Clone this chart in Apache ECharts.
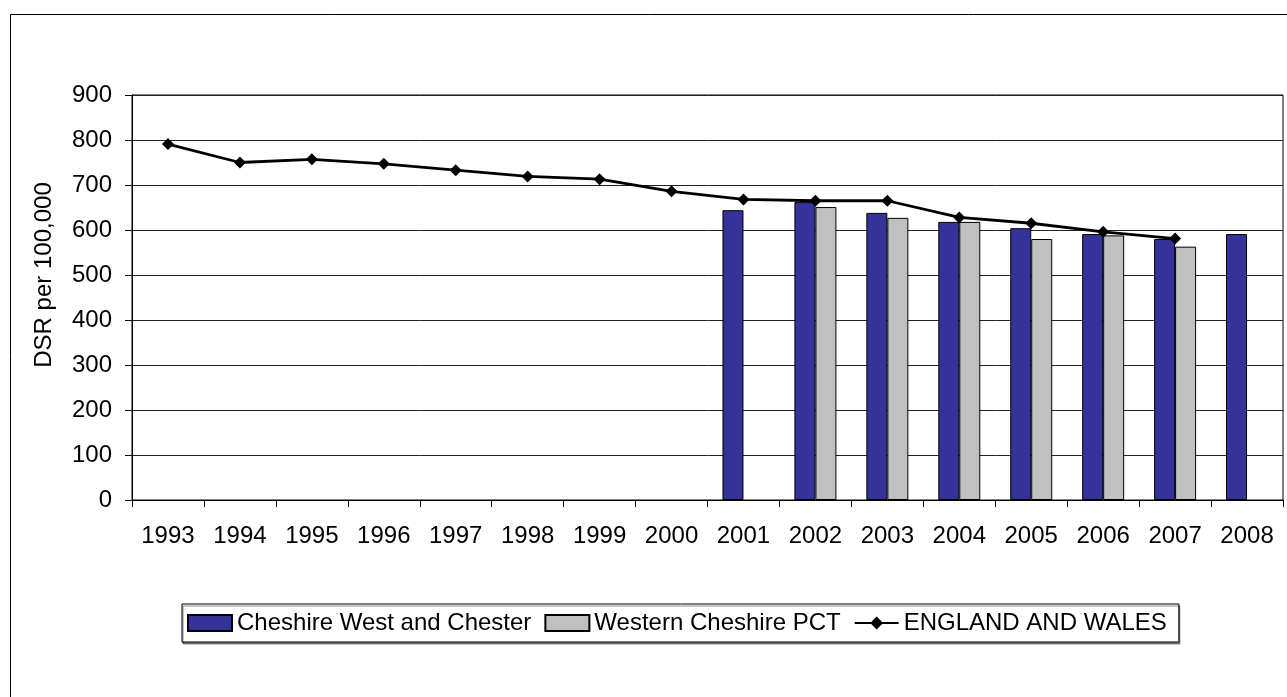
<!DOCTYPE html>
<html>
<head>
<meta charset="utf-8">
<title>DSR per 100,000</title>
<script src="https://cdn.jsdelivr.net/npm/echarts@6/dist/echarts.min.js"></script>
<style>
  html, body { margin: 0; padding: 0; background: #fff; }
  #chart { width: 1287px; height: 697px; }
</style>
</head>
<body>
<div id="chart"></div>
<script>
// Years on the category axis
const years = ['1993','1994','1995','1996','1997','1998','1999','2000',
               '2001','2002','2003','2004','2005','2006','2007','2008'];

// Directly standardised rates per 100,000
const cheshireWestChester = [null,null,null,null,null,null,null,null,
                             644,662,638,618,604,591,580,591];
const westernCheshirePCT  = [null,null,null,null,null,null,null,null,
                             null,651,627,618,580,588,563,null];
const englandAndWales     = [791,750,757,747,733,719,713,686,
                             668,665,665,628,615,596,581,null];

// Value axis ticks
const yTicks = [0,100,200,300,400,500,600,700,800,900];

const FONT = '"Liberation Sans", Arial, sans-serif';

const chart = echarts.init(document.getElementById('chart'), null, { renderer: 'canvas' });

chart.setOption({
  animation: false,
  backgroundColor: '#ffffff',
  textStyle: { fontFamily: FONT, color: '#000' },
  graphic: [
    {
      type: 'rect',
      shape: { x: 10.5, y: 14.5, width: 1300, height: 700 },
      style: { fill: 'none', stroke: '#000', lineWidth: 1 },
      silent: true
    },
    {
      type: 'text',
      x: 44, y: 275,
      rotation: Math.PI / 2,
      style: {
        text: 'DSR per 100,000',
        font: '24px ' + FONT,
        fill: '#000',
        align: 'center',
        verticalAlign: 'middle'
      }
    }
  ],
  grid: {
    left: 132, top: 95, right: 4, bottom: 197,
    show: true, borderColor: '#000', borderWidth: 1, backgroundColor: 'transparent'
  },
  legend: {
    left: 182, top: 604,
    padding: [7, 12, 7, 5],
    itemWidth: 44, itemHeight: 16, itemGap: 13,
    borderColor: '#000', borderWidth: 1, backgroundColor: '#fff',
    shadowColor: 'rgba(0,0,0,0.45)', shadowOffsetX: 1, shadowOffsetY: 2, shadowBlur: 0,
    textStyle: { fontFamily: FONT, fontSize: 24, color: '#000' },
    data: [
      { name: 'Cheshire West and Chester', icon: 'rect' },
      { name: 'Western Cheshire PCT', icon: 'rect' },
      { name: 'ENGLAND AND WALES' }
    ]
  },
  xAxis: {
    type: 'category',
    data: years,
    boundaryGap: true,
    axisLine: { lineStyle: { color: '#000', width: 1 } },
    axisTick: { show: true, length: 7, inside: false, lineStyle: { color: '#000' } },
    axisLabel: { fontFamily: FONT, fontSize: 24, color: '#000', margin: 24, interval: 0 },
    splitLine: { show: false }
  },
  yAxis: {
    type: 'value',
    min: yTicks[0], max: yTicks[yTicks.length - 1], interval: 100,
    axisLine: { show: true, lineStyle: { color: '#000', width: 1 } },
    axisTick: { show: true, length: 7, lineStyle: { color: '#000' } },
    axisLabel: { fontFamily: FONT, fontSize: 24, color: '#000', margin: 20 },
    splitLine: { show: true, lineStyle: { color: '#222', width: 1 } }
  },
  series: [
    {
      name: 'Cheshire West and Chester',
      type: 'bar',
      data: cheshireWestChester,
      barWidth: 21,
      barGap: '0%',
      itemStyle: { color: '#333399', borderColor: '#000', borderWidth: 1 }
    },
    {
      name: 'Western Cheshire PCT',
      type: 'bar',
      data: westernCheshirePCT,
      barWidth: 21,
      barGap: '0%',
      itemStyle: { color: '#C0C0C0', borderColor: '#000', borderWidth: 1 }
    },
    {
      name: 'ENGLAND AND WALES',
      type: 'line',
      data: englandAndWales,
      symbol: 'diamond',
      symbolSize: 12,
      showSymbol: true,
      connectNulls: false,
      lineStyle: { color: '#000', width: 2.8 },
      itemStyle: { color: '#000' },
      z: 5
    }
  ]
});
</script>
</body>
</html>
